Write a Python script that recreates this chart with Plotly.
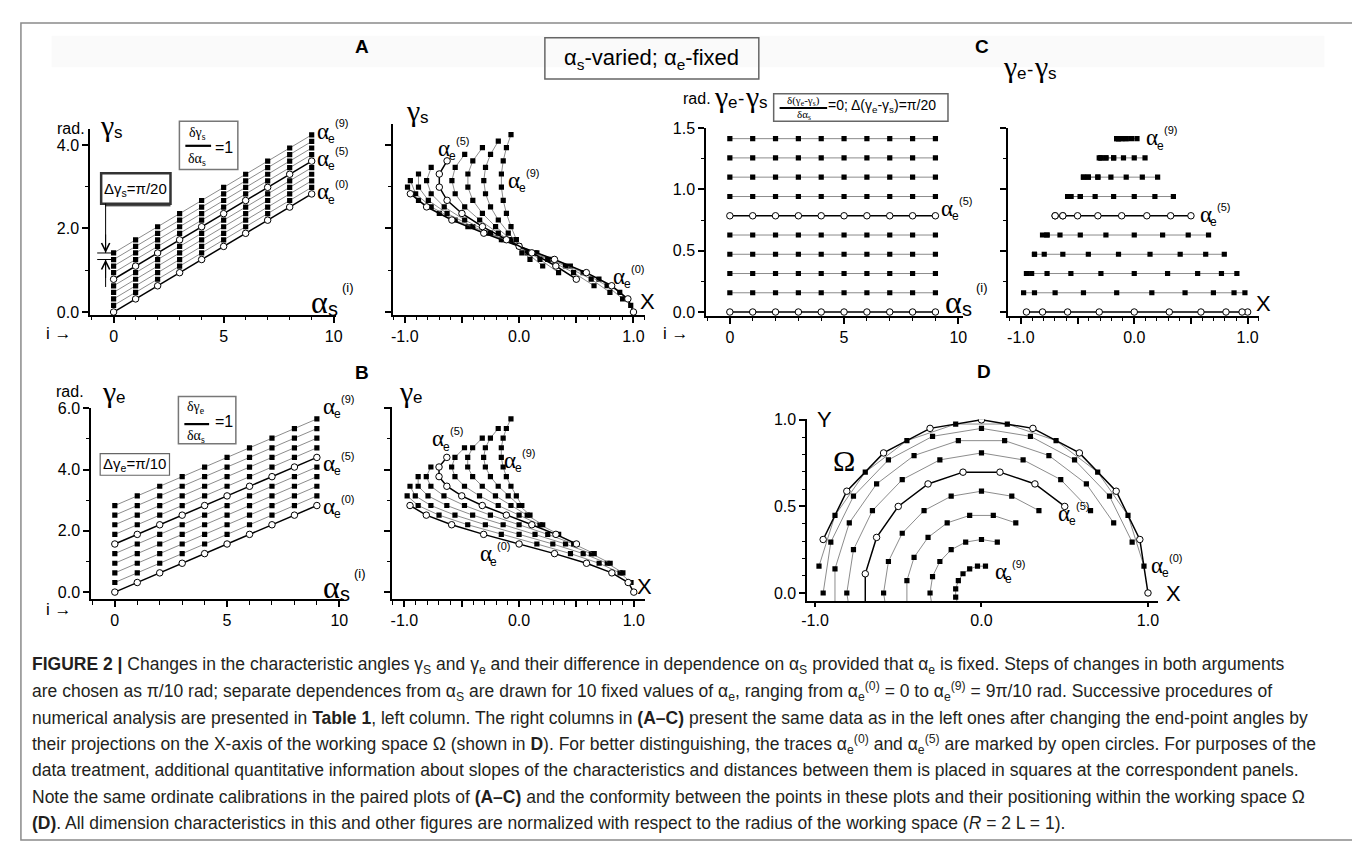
import plotly.graph_objects as go

W, H = 1360, 843
SANS = "Liberation Sans, Arial, sans-serif"
SERIF = "Liberation Serif, Times New Roman, serif"

# ---------------- data ----------------
alpha_s_index = [0, 1, 2, 3, 4, 5, 6, 7, 8, 9]
series_ids = [0, 1, 2, 3, 4, 5, 6, 7, 8, 9]          # alpha_e^(k)
open_series = [0, 5]

gamma_s = [
    [0.000, 0.314, 0.628, 0.942, 1.257, 1.571, 1.885, 2.199, 2.513, 2.827],
    [0.157, 0.471, 0.785, 1.100, 1.414, 1.728, 2.042, 2.356, 2.670, 2.985],
    [0.314, 0.628, 0.942, 1.257, 1.571, 1.885, 2.199, 2.513, 2.827, 3.142],
    [0.471, 0.785, 1.100, 1.414, 1.728, 2.042, 2.356, 2.670, 2.985, 3.299],
    [0.628, 0.942, 1.257, 1.571, 1.885, 2.199, 2.513, 2.827, 3.142, 3.456],
    [0.785, 1.100, 1.414, 1.728, 2.042, 2.356, 2.670, 2.985, 3.299, 3.613],
    [0.942, 1.257, 1.571, 1.885, 2.199, 2.513, 2.827, 3.142, 3.456, 3.770],
    [1.100, 1.414, 1.728, 2.042, 2.356, 2.670, 2.985, 3.299, 3.613, 3.927],
    [1.257, 1.571, 1.885, 2.199, 2.513, 2.827, 3.142, 3.456, 3.770, 4.084],
    [1.414, 1.728, 2.042, 2.356, 2.670, 2.985, 3.299, 3.613, 3.927, 4.241],
]

gamma_e = [
    [0.000, 0.314, 0.628, 0.942, 1.257, 1.571, 1.885, 2.199, 2.513, 2.827],
    [0.314, 0.628, 0.942, 1.257, 1.571, 1.885, 2.199, 2.513, 2.827, 3.142],
    [0.628, 0.942, 1.257, 1.571, 1.885, 2.199, 2.513, 2.827, 3.142, 3.456],
    [0.942, 1.257, 1.571, 1.885, 2.199, 2.513, 2.827, 3.142, 3.456, 3.770],
    [1.257, 1.571, 1.885, 2.199, 2.513, 2.827, 3.142, 3.456, 3.770, 4.084],
    [1.571, 1.885, 2.199, 2.513, 2.827, 3.142, 3.456, 3.770, 4.084, 4.398],
    [1.885, 2.199, 2.513, 2.827, 3.142, 3.456, 3.770, 4.084, 4.398, 4.712],
    [2.199, 2.513, 2.827, 3.142, 3.456, 3.770, 4.084, 4.398, 4.712, 5.027],
    [2.513, 2.827, 3.142, 3.456, 3.770, 4.084, 4.398, 4.712, 5.027, 5.341],
    [2.827, 3.142, 3.456, 3.770, 4.084, 4.398, 4.712, 5.027, 5.341, 5.655],
]

gamma_diff = [0.000, 0.157, 0.314, 0.471, 0.628, 0.785, 0.942, 1.100, 1.257, 1.414]

x_proj = [
    [1.000, 0.951, 0.809, 0.588, 0.309, 0.000, -0.309, -0.588, -0.809, -0.951],
    [0.976, 0.880, 0.698, 0.448, 0.155, -0.155, -0.448, -0.698, -0.880, -0.976],
    [0.905, 0.769, 0.559, 0.294, 0.000, -0.294, -0.559, -0.769, -0.905, -0.951],
    [0.794, 0.630, 0.405, 0.139, -0.139, -0.405, -0.630, -0.794, -0.880, -0.880],
    [0.655, 0.476, 0.250, 0.000, -0.250, -0.476, -0.655, -0.769, -0.809, -0.769],
    [0.500, 0.321, 0.111, -0.111, -0.321, -0.500, -0.630, -0.698, -0.698, -0.630],
    [0.345, 0.182, 0.000, -0.182, -0.345, -0.476, -0.559, -0.588, -0.559, -0.476],
    [0.206, 0.071, -0.071, -0.206, -0.321, -0.405, -0.448, -0.448, -0.405, -0.321],
    [0.095, 0.000, -0.095, -0.182, -0.250, -0.294, -0.309, -0.294, -0.250, -0.182],
    [0.024, -0.024, -0.071, -0.111, -0.139, -0.155, -0.155, -0.139, -0.111, -0.071],
]

y_proj = [
    [0.000, 0.309, 0.588, 0.809, 0.951, 1.000, 0.951, 0.809, 0.588, 0.309],
    [0.155, 0.448, 0.698, 0.880, 0.976, 0.976, 0.880, 0.698, 0.448, 0.155],
    [0.294, 0.559, 0.769, 0.905, 0.951, 0.905, 0.769, 0.559, 0.294, 0.000],
    [0.405, 0.630, 0.794, 0.880, 0.880, 0.794, 0.630, 0.405, 0.139, -0.139],
    [0.476, 0.655, 0.769, 0.809, 0.769, 0.655, 0.476, 0.250, 0.000, -0.250],
    [0.500, 0.630, 0.698, 0.698, 0.630, 0.500, 0.321, 0.111, -0.111, -0.321],
    [0.476, 0.559, 0.588, 0.559, 0.476, 0.345, 0.182, 0.000, -0.182, -0.345],
    [0.405, 0.448, 0.448, 0.405, 0.321, 0.206, 0.071, -0.071, -0.206, -0.321],
    [0.294, 0.309, 0.294, 0.250, 0.182, 0.095, 0.000, -0.095, -0.182, -0.250],
    [0.155, 0.155, 0.139, 0.111, 0.071, 0.024, -0.024, -0.071, -0.111, -0.139],
]

x_ticks_index = [0, 5, 10]
x_ticks_proj = [-1.0, -0.5, 0.0, 0.5, 1.0]
x_ticktext_proj = ["-1.0", "", "0.0", "", "1.0"]

# ---------------- figure ----------------
fig = go.Figure()

panels = [
    ("x", "y", lambda k: alpha_s_index, lambda k: gamma_s[k]),
    ("x2", "y2", lambda k: x_proj[k], lambda k: gamma_s[k]),
    ("x3", "y3", lambda k: alpha_s_index, lambda k: [gamma_diff[k]] * len(alpha_s_index)),
    ("x4", "y4", lambda k: x_proj[k], lambda k: [gamma_diff[k]] * len(x_proj[k])),
    ("x5", "y5", lambda k: alpha_s_index, lambda k: gamma_e[k]),
    ("x6", "y6", lambda k: x_proj[k], lambda k: gamma_e[k]),
    ("x7", "y7", lambda k: x_proj[k], lambda k: y_proj[k]),
]

order = [k for k in series_ids if k not in open_series] + open_series
for xa, ya, fx, fy in panels:
    for k in order:
        is_open = k in open_series
        fig.add_trace(go.Scatter(
            x=fx(k), y=fy(k), xaxis=xa, yaxis=ya, mode="lines+markers",
            line=dict(color="black" if is_open else "#6e6e6e", width=1.5 if is_open else 0.8),
            marker=dict(symbol="circle" if is_open else "square",
                        size=6.5 if is_open else 5.2,
                        color="white" if is_open else "black",
                        line=dict(color="black", width=1 if is_open else 0)),
            hoverinfo="skip", showlegend=False,
        ))


def xd(a, b):
    return [a / W, b / W]


def yd(top, bottom):
    return [1 - bottom / H, 1 - top / H]


base = dict(showline=True, linecolor="black", linewidth=2, ticks="outside", ticklen=6,
            tickwidth=1.5, tickcolor="black", showgrid=False, zeroline=False,
            tickfont=dict(family=SANS, size=16, color="black"), tickmode="array")


def minor(d, t0=0):
    return dict(ticks="outside", ticklen=3.5, tickwidth=1.2, tickcolor="black",
                dtick=d, tick0=t0, showgrid=False)


def ax(**kw):
    d = dict(base)
    d.update(kw)
    return d


fig.update_layout(
    width=W, height=H, margin=dict(l=0, r=0, t=0, b=0),
    paper_bgcolor="white", plot_bgcolor="rgba(0,0,0,0)", showlegend=False,
    font=dict(family=SANS, color="black"),
    # A left
    xaxis=ax(domain=xd(77, 325), range=[-1.06, 10.1], tickvals=x_ticks_index,
             ticktext=[str(v) for v in x_ticks_index], minor=minor(1), anchor="y"),
    yaxis=ax(domain=yd(115, 304), range=[-0.07, 4.38], tickvals=[0, 2, 4],
             ticktext=["0.0", "2.0", "4.0"], minor=minor(1), anchor="x"),
    # A right
    xaxis2=ax(domain=xd(383, 637), range=[-1.10, 1.10], tickvals=x_ticks_proj,
              ticktext=x_ticktext_proj, minor=minor(0.1), anchor="y2"),
    yaxis2=ax(domain=yd(110, 304), range=[-0.07, 4.49], tickvals=[0, 2, 4],
              showticklabels=False, minor=minor(1), anchor="x2"),
    # C left
    xaxis3=ax(domain=xd(699, 958), range=[-1.03, 10.2], tickvals=x_ticks_index,
              ticktext=[str(v) for v in x_ticks_index], minor=minor(1), anchor="y3"),
    yaxis3=ax(domain=yd(114, 305), range=[-0.032, 1.5], tickvals=[0, 0.5, 1.0, 1.5],
              ticktext=["0.0", "0.5", "1.0", "1.5"], minor=minor(0.25), anchor="x3"),
    # C right
    xaxis4=ax(domain=xd(1004, 1257), range=[-1.11, 1.10], tickvals=x_ticks_proj,
              ticktext=x_ticktext_proj, minor=minor(0.1), anchor="y4"),
    yaxis4=ax(domain=yd(114, 305), range=[-0.032, 1.5], tickvals=[0, 0.5, 1.0, 1.5],
              showticklabels=False, minor=minor(0.25), anchor="x4"),
    # B left
    xaxis5=ax(domain=xd(78, 333), range=[-1.05, 10.2], tickvals=x_ticks_index,
              ticktext=[str(v) for v in x_ticks_index], minor=minor(1), anchor="y5"),
    yaxis5=ax(domain=yd(399, 593), range=[-0.23, 6.0], tickvals=[0, 2, 4, 6],
              ticktext=["0.0", "2.0", "4.0", "6.0"], minor=minor(1), anchor="x5"),
    # B right
    xaxis6=ax(domain=xd(382, 637), range=[-1.105, 1.097], tickvals=x_ticks_proj,
              ticktext=x_ticktext_proj, minor=minor(0.1), anchor="y6"),
    yaxis6=ax(domain=yd(398, 593), range=[-0.23, 6.03], tickvals=[0, 2, 4, 6],
              showticklabels=False, minor=minor(1), anchor="x6"),
    # D
    xaxis7=ax(domain=xd(801, 1155), range=[-1.046, 1.06], tickvals=[-1, 0, 1],
              ticktext=["-1.0", "0.0", "1.0"], ticklen=4, anchor="y7"),
    yaxis7=ax(domain=yd(410, 595), range=[-0.047, 1.004], tickvals=[0, 0.5, 1.0],
              ticktext=["0.0", "0.5", "1.0"], minor=minor(0.1), anchor="x7"),
)

# ---------------- decorations ----------------
shapes = []
anns = []


def P(x, y):
    return x / W, 1 - y / H


def rect(x0, y0, x1, y1, color="#777", width=1.5, fill=None, layer="above"):
    a, b = P(x0, y1)
    c, d = P(x1, y0)
    shapes.append(dict(type="rect", xref="paper", yref="paper", x0=a, y0=b, x1=c, y1=d,
                       line=dict(color=color, width=width) if width else dict(width=0),
                       fillcolor=fill or "rgba(0,0,0,0)", layer=layer))


def line(x0, y0, x1, y1, color="black", width=1):
    a, b = P(x0, y0)
    c, d = P(x1, y1)
    shapes.append(dict(type="line", xref="paper", yref="paper", x0=a, y0=b, x1=c, y1=d,
                       line=dict(color=color, width=width)))


def T(x, y, text, size=17, anchor="left", family=SANS, color="black"):
    a, b = P(x, y)
    anns.append(dict(x=a, y=b, xref="paper", yref="paper", text=text, showarrow=False,
                     xanchor=anchor, yanchor="middle", borderpad=0, borderwidth=0,
                     font=dict(size=size, family=family, color=color)))


def TB(x, base_y, text, size, family=SANS, anchor="left", color="black"):
    """place text so that its baseline sits at base_y (pixels)"""
    T(x, base_y - 0.35 * size, text, size, anchor, family, color)


def gam(x, b, sub):
    TB(x, b, "γ", 30, SERIF)
    TB(x + 14, b + 2, sub, 17)


def gam_diff(x, b):
    TB(x, b, "γ", 30, SERIF)
    TB(x + 14, b + 2, "e", 17)
    TB(x + 24, b - 1, "-", 19)
    TB(x + 31, b, "γ", 30, SERIF)
    TB(x + 45, b + 2, "s", 17)


def alpha_e(x, b, k):
    TB(x, b, "α", 23, SERIF)
    TB(x + 11, b + 4, "e", 12)
    TB(x + 18, b - 12, f"({k})", 11)


def alpha_s_i(x, b):
    TB(x, b, "α", 32, SERIF)
    TB(x + 17, b + 3, "s", 20)
    TB(x + 31, b - 21, "(i)", 13)


# background band & frame
rect(38, 20, 1323, 52, width=0, fill="#fafafa", layer="below")
rect(7, 7, 1352, 838, color="#8a8a8a", width=1.5)

# panel letters & header
T(351, 31, "<b>A</b>", 19, "center")
T(977, 31, "<b>C</b>", 19, "center")
T(351, 363, "<b>B</b>", 19, "center")
T(979, 362, "<b>D</b>", 19, "center")
rect(536, 22, 752, 64, color="#666", width=1.5)
T(644, 44, "α<sub>s</sub>-varied; α<sub>e</sub>-fixed", 22, "center")

# ---- A left ----
TB(43, 120, "rad.", 16)
gam(87, 122, "s")
rect(167, 107, 226, 156, color="#777", width=1.5)
T(185, 119, "δγ<sub>s</sub>", 14, "center", SERIF)
line(173, 132, 199, 132, width=2.2)
T(185, 146, "δα<sub>s</sub>", 14, "center", SERIF)
T(203, 134, "=1", 16)
rect(88, 160, 158, 191, color="#333", width=2.5)
T(123, 176, "Δγ<sub>s</sub>=π/20", 15, "center")
line(92, 193, 158, 193, width=1)
shapes.append(dict(type="line", xref="paper", yref="y", x0=92.5 / W, x1=92.5 / W,
                   y0=gamma_s[9][0], y1=2.6, line=dict(color="black", width=1)))
shapes.append(dict(type="line", xref="paper", yref="y", x0=92.5 / W, x1=92.5 / W,
                   y0=gamma_s[8][0], y1=0.6, line=dict(color="black", width=1)))
for gv in (gamma_s[9][0], gamma_s[8][0]):
    shapes.append(dict(type="line", xref="paper", yref="y", x0=84 / W, x1=101 / W,
                       y0=gv, y1=gv, line=dict(color="black", width=1)))
anns.append(dict(x=92.5 / W, y=gamma_s[9][0], xref="paper", yref="y", text="", showarrow=True,
                 ax=0, ay=-20, arrowhead=5, arrowsize=1.6, arrowwidth=1, arrowcolor="black"))
anns.append(dict(x=92.5 / W, y=gamma_s[8][0], xref="paper", yref="y", text="", showarrow=True,
                 ax=0, ay=20, arrowhead=5, arrowsize=1.6, arrowwidth=1, arrowcolor="black"))
alpha_e(306, 125, 9)
alpha_e(306, 153, 5)
alpha_e(306, 187, 0)
alpha_s_i(300, 302)
T(32, 323, "i →", 17)

# ---- A right ----
gam(396, 107, "s")
alpha_e(428, 143, 5)
alpha_e(499, 175, 9)
alpha_e(605, 273, 0)
TB(632, 298, "X", 22)

# ---- C left ----
TB(675, 90, "rad.", 16)
gam_diff(707, 92)
rect(767, 79, 943, 107, color="#666", width=1.5)
T(797, 86, "δ(γ<sub>e</sub>-γ<sub>s</sub>)", 11, "center", SERIF)
line(773, 93.5, 821, 93.5, width=2)
T(798, 100.5, "δα<sub>s</sub>", 11, "center", SERIF)
T(822, 92, "=0; Δ(γ<sub>e</sub>-γ<sub>s</sub>)=π/20", 14)
alpha_e(936, 204, 5)
alpha_s_i(940, 302)
T(655, 323, "i →", 17)

# ---- C right ----
gam_diff(999, 62)
alpha_e(1143, 132, 9)
alpha_e(1197, 210, 5)
TB(1254, 300, "X", 22)

# ---- B left ----
TB(42, 387, "rad.", 16)
gam(89, 392, "e")
rect(166, 387, 224, 435, color="#777", width=1.5)
T(184, 398, "δγ<sub>e</sub>", 14, "center", SERIF)
line(172, 415, 197, 415, width=2.2)
T(184, 428, "δα<sub>s</sub>", 14, "center", SERIF)
T(203, 412, "=1", 16)
rect(87, 445, 157, 467, color="#666", width=1.2)
T(122, 456, "Δγ<sub>e</sub>=π/10", 15, "center")
alpha_e(312, 405, 9)
alpha_e(312, 463, 5)
alpha_e(312, 507, 0)
alpha_s_i(312, 592)
T(32, 604, "i →", 17)

# ---- B right ----
gam(389, 392, "e")
alpha_e(422, 438, 5)
alpha_e(495, 460, 9)
alpha_e(470, 555, 0)
TB(629, 588, "X", 22)

# ---- D ----
TB(811, 418, "Y", 22)
TB(838, 462, "Ω", 30, SERIF, "center")
alpha_e(1054, 514, 5)
alpha_e(990, 573, 9)
alpha_e(1148, 567, 0)
TB(1163, 595, "X", 22)

# ---- caption ----
caption_lines = [
    "<b>FIGURE 2 |</b> Changes in the characteristic angles γ<sub>S</sub> and γ<sub>e</sub> and their difference in dependence on α<sub>S</sub> provided that α<sub>e</sub> is fixed. Steps of changes in both arguments",
    "are chosen as π/10 rad; separate dependences from α<sub>S</sub> are drawn for 10 fixed values of α<sub>e</sub>, ranging from α<sub>e</sub><sup>(0)</sup> = 0 to α<sub>e</sub><sup>(9)</sup> = 9π/10 rad. Successive procedures of",
    "numerical analysis are presented in <b>Table 1</b>, left column. The right columns in <b>(A–C)</b> present the same data as in the left ones after changing the end-point angles by",
    "their projections on the X-axis of the working space Ω (shown in <b>D</b>). For better distinguishing, the traces α<sub>e</sub><sup>(0)</sup> and α<sub>e</sub><sup>(5)</sup> are marked by open circles. For purposes of the",
    "data treatment, additional quantitative information about slopes of the characteristics and distances between them is placed in squares at the correspondent panels.",
    "Note the same ordinate calibrations in the paired plots of <b>(A–C)</b> and the conformity between the points in these plots and their positioning within the working space Ω",
    "<b>(D)</b>. All dimension characteristics in this and other figures are normalized with respect to the radius of the working space (<i>R</i> = 2 L = 1).",
]
for j, txt in enumerate(caption_lines):
    T(18, 660 + 26.8 * j, txt, 17.5, color="#231f20")

fig.update_layout(shapes=shapes, annotations=anns)
fig.write_html("out.html")
